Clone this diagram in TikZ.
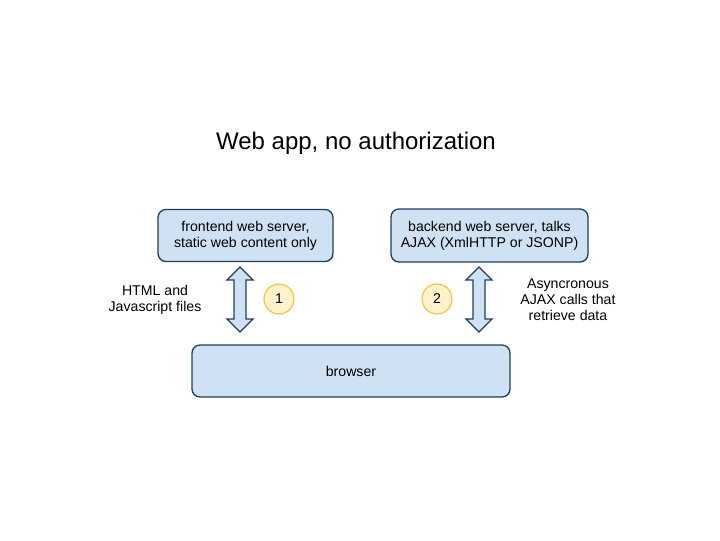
\documentclass[tikz,border=0pt]{standalone}
\usepackage{fontspec}
\setmainfont{Liberation Sans}
\definecolor{boxfill}{HTML}{CFE2F3}
\definecolor{boxline}{HTML}{1F3F5F}
\definecolor{circfill}{HTML}{FFF2CC}
\definecolor{circline}{HTML}{F1C232}
\begin{document}
\begin{tikzpicture}[x=0.75pt,y=-0.75pt,
  box/.style={draw=boxline,fill=boxfill,line width=1pt,rounded corners=6pt,inner sep=0pt,align=center,font=\fontsize{10.6}{12}\selectfont},
  badge/.style={circle,draw=circline,fill=circfill,line width=0.8pt,minimum size=22.5pt,inner sep=0pt,font=\fontsize{10.6}{12}\selectfont},
  lbl/.style={align=center,font=\fontsize{10.6}{12}\selectfont},
  blockarrow/.style={draw=boxline,fill=boxfill,line width=1pt,line join=miter}]
\useasboundingbox (0,0) rectangle (720,540);
\node[font=\fontsize{18}{21}\selectfont] (title) at (356,143) {Web app, no authorization};
\node[box,minimum width=175*0.75pt,minimum height=52*0.75pt] (front) at (245.5,235.5) {frontend web server,\\static web content only};
\node[box,minimum width=197*0.75pt,minimum height=53*0.75pt] (back) at (489.5,235.5) {backend web server, talks\\AJAX (XmlHTTP or JSONP)};
\node[box,minimum width=318*0.75pt,minimum height=52*0.75pt] (browser) at (351,371) {browser};
\node[badge] (b1) at (279,299) {1};
\node[badge] (b2) at (437,299) {2};
\node[lbl] (l1) at (155,300) {HTML and\\Javascript files};
\node[lbl] (l2) at (568,300) {Asyncronous\\AJAX calls that\\retrieve data};
\coordinate (a1) at (240,267);
\coordinate (a2) at (479,267);
\foreach \c in {a1,a2}{
  \draw[blockarrow] (\c) -- ++(13,13) -- ++(-7,0) -- ++(0,39) -- ++(7,0) -- ++(-13,13) -- ++(-13,-13) -- ++(7,0) -- ++(0,-39) -- ++(-7,0) -- cycle;
}
\end{tikzpicture}
\end{document}
